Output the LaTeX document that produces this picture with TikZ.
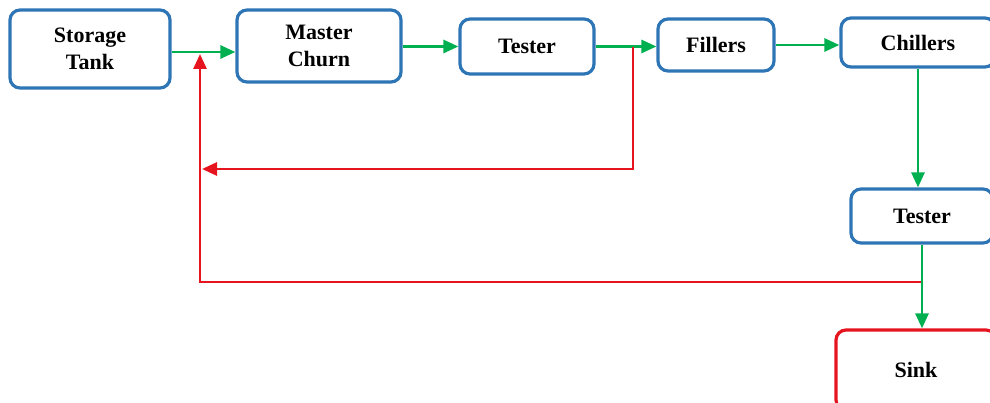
\documentclass[tikz,border=0pt]{standalone}
\usepackage{fontspec}
\setmainfont{Liberation Serif}
\usetikzlibrary{arrows.meta}
\definecolor{boxblue}{RGB}{46,117,182}
\definecolor{flowgreen}{RGB}{0,176,80}
\definecolor{backred}{RGB}{230,20,30}
\tikzset{
  x=1pt,y=-1pt,
  proc/.style={draw=boxblue,line width=3.2pt,rounded corners=10pt,fill=white,
    font=\fontsize{22}{27}\selectfont\bfseries,align=center,inner sep=0pt},
  flow/.style={draw=flowgreen,line width=2.8pt,-{Triangle[length=15pt,width=13pt]}},
  back/.style={draw=backred,line width=2.8pt,-{Triangle[length=15pt,width=13pt]}},
}
\begin{document}
\begin{tikzpicture}
\useasboundingbox (0,0) rectangle (990,403);
\clip (0,0) rectangle (990,403);
\node[proc,minimum width=160pt,minimum height=78pt] (st) at (90,49) {Storage\\Tank};
\node[proc,minimum width=164pt,minimum height=72pt] (mc) at (319,46) {Master\\Churn};
\node[proc,minimum width=134pt,minimum height=55pt] (t1) at (527,46.5) {Tester};
\node[proc,minimum width=116pt,minimum height=52pt] (fi) at (716,45) {Fillers};
\node[proc,minimum width=154pt,minimum height=49pt] (ch) at (918,42.5) {Chillers};
\node[proc,minimum width=142pt,minimum height=54pt] (t2) at (922,216) {Tester};
\node[proc,draw=backred,minimum width=160pt,minimum height=80pt] (sk) at (916,370) {Sink};
% junctions
\coordinate (j1) at (200,52);
\coordinate (j2) at (633,47);
\coordinate (j3) at (921,282);
\coordinate (r1) at (202,169);
% green flow
\draw[flow] ([yshift=-3pt]st.east) -- ([yshift=-3pt]st.east -| mc.west);
\draw[flow] (mc.east |- t1.west) -- (t1.west);
\draw[flow] (t1.east) -- (t1.east -| fi.west);
\draw[flow] (fi.east) -- (fi.east -| ch.west);
\draw[flow] (ch.south) -- (ch.south |- t2.north);
\draw[flow] (t2.south) -- (t2.south |- sk.north);
% red feedback
\draw[back] (j2) |- (r1);
\draw[back,shorten >=2pt] (j3) -| (j1);
\end{tikzpicture}
\end{document}
